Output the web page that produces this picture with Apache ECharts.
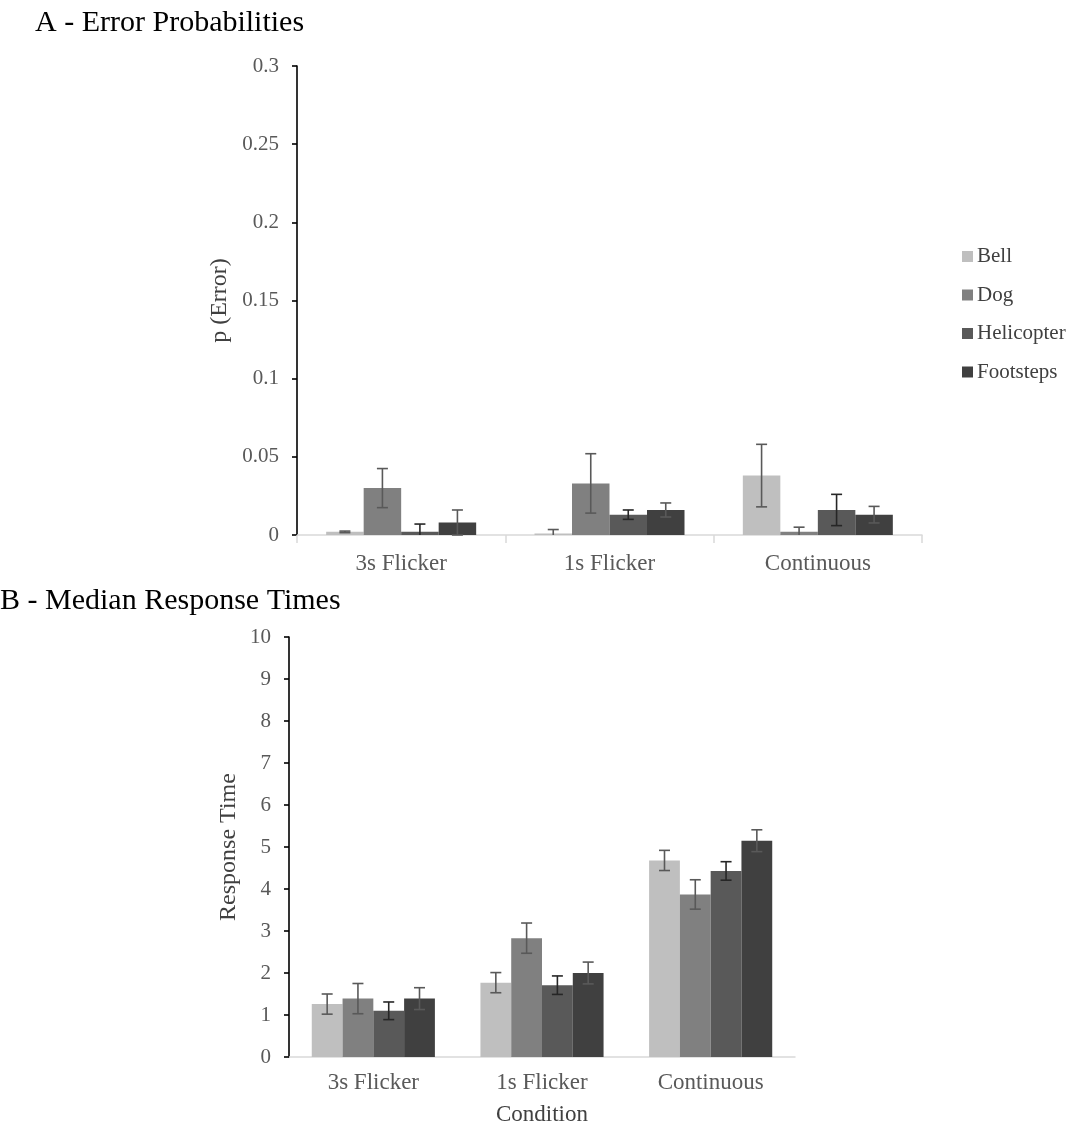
<!DOCTYPE html>
<html>
<head>
<meta charset="utf-8">
<script src="https://cdn.jsdelivr.net/npm/echarts@6/dist/echarts.min.js"></script>
<style>html,body{margin:0;padding:0;background:#fff;}#c{width:1072px;height:1132px;}</style>
</head>
<body>
<div id="c"></div>
<script>
const categories = ['3s Flicker', '1s Flicker', 'Continuous'];
const seriesNames = ['Bell', 'Dog', 'Helicopter', 'Footsteps'];
const barColors = ['#BFBFBF', '#808080', '#595959', '#404040'];
const errColors = ['#595959', '#595959', '#262626', '#595959'];

// A - Error probabilities (per series: values over categories)
const errBell = [0.002, 0.001, 0.038];
const errDog = [0.030, 0.033, 0.002];
const errHeli = [0.002, 0.013, 0.016];
const errFoot = [0.008, 0.016, 0.013];
// half-widths of the error bars
const errBellE = [0.0005, 0.0025, 0.020];
const errDogE = [0.0125, 0.019, 0.003];
const errHeliE = [0.005, 0.003, 0.010];
const errFootE = [0.008, 0.0045, 0.0053];

// B - Median response times
const rtBell = [1.26, 1.77, 4.68];
const rtDog = [1.39, 2.83, 3.87];
const rtHeli = [1.10, 1.71, 4.43];
const rtFoot = [1.39, 2.00, 5.15];
const rtBellE = [0.24, 0.24, 0.24];
const rtDogE = [0.36, 0.36, 0.35];
const rtHeliE = [0.21, 0.22, 0.22];
const rtFootE = [0.26, 0.26, 0.26];

const yTicksA = { min: 0, max: 0.3, interval: 0.05 };
const yTicksB = { min: 0, max: 10, interval: 1 };

const valsA = [errBell, errDog, errHeli, errFoot];
const esA = [errBellE, errDogE, errHeliE, errFootE];
const valsB = [rtBell, rtDog, rtHeli, rtFoot];
const esB = [rtBellE, rtDogE, rtHeliE, rtFootE];

const FONT = 'Liberation Serif';
const gapA = 0.28, gapB = 0.27;

function makeErr(idx, gap, axisIdx, vals, errs) {
  return {
    type: 'custom',
    name: seriesNames[idx] + ' error',
    xAxisIndex: axisIdx, yAxisIndex: axisIdx,
    z: 5,
    data: vals.map((v, i) => [i, v, errs[i]]),
    renderItem: function (params, api) {
      const cat = api.value(0), v = api.value(1), e = api.value(2);
      const catW = api.size([1, 0])[0];
      const barW = catW * (1 - gap) / 4;
      const c = api.coord([cat, v]);
      const x = c[0] + (idx - 1.5) * barW;
      const yHi = api.coord([cat, v + e])[1];
      const lowV = v - e;
      const yLo = api.coord([cat, Math.max(lowV, 0)])[1];
      const cap = 5.5;
      const st = { stroke: errColors[idx], lineWidth: 1.6 };
      const ch = [
        { type: 'line', shape: { x1: x, y1: yHi, x2: x, y2: yLo }, style: st },
        { type: 'line', shape: { x1: x - cap, y1: yHi, x2: x + cap, y2: yHi }, style: st }
      ];
      if (lowV >= 0) ch.push({ type: 'line', shape: { x1: x - cap, y1: yLo, x2: x + cap, y2: yLo }, style: st });
      return { type: 'group', children: ch };
    }
  };
}

const series = [];
seriesNames.forEach((n, i) => {
  series.push({ type: 'bar', name: n, xAxisIndex: 0, yAxisIndex: 0, data: valsA[i],
    barGap: '0%', barCategoryGap: (gapA * 100) + '%', itemStyle: { color: barColors[i] } });
});
seriesNames.forEach((n, i) => {
  series.push({ type: 'bar', name: n, xAxisIndex: 1, yAxisIndex: 1, data: valsB[i],
    barGap: '0%', barCategoryGap: (gapB * 100) + '%', itemStyle: { color: barColors[i] } });
});
seriesNames.forEach((n, i) => series.push(makeErr(i, gapA, 0, valsA[i], esA[i])));
seriesNames.forEach((n, i) => series.push(makeErr(i, gapB, 1, valsB[i], esB[i])));

const labelStyle = { fontFamily: FONT, fontSize: 21, color: '#595959' };

const chart = echarts.init(document.getElementById('c'), null, { renderer: 'canvas' });
chart.setOption({
  animation: false,
  backgroundColor: '#fff',
  title: [
    { text: 'A - Error Probabilities', left: 35, top: 8, padding: 0, textStyle: { fontFamily: FONT, fontSize: 30, fontWeight: 'normal', color: '#000' } },
    { text: 'B - Median Response Times', left: 0, top: 586, padding: 0, textStyle: { fontFamily: FONT, fontSize: 30, fontWeight: 'normal', color: '#000' } }
  ],
  legend: {
    orient: 'vertical', left: 962, top: 246, padding: 0, itemWidth: 11, itemHeight: 11, itemGap: 17.5,
    data: seriesNames, icon: 'rect',
    textStyle: { fontFamily: FONT, fontSize: 21, color: '#404040', lineHeight: 21, padding: [0, 0, 0, -1] }
  },
  grid: [
    { left: 297, top: 66, width: 625, height: 469 },
    { left: 289, top: 637, width: 506, height: 420 }
  ],
  xAxis: [
    { type: 'category', gridIndex: 0, data: categories,
      axisLine: { lineStyle: { color: '#d9d9d9', width: 1.5 } },
      axisTick: { show: true, length: 8, lineStyle: { color: '#d9d9d9', width: 1.5 } },
      axisLabel: Object.assign({ margin: 17 }, labelStyle, { fontSize: 23 }) },
    { type: 'category', gridIndex: 1, data: categories,
      name: 'Condition', nameLocation: 'middle', nameGap: 46,
      nameTextStyle: { fontFamily: FONT, fontSize: 23, color: '#404040' },
      axisLine: { lineStyle: { color: '#d9d9d9', width: 1.5 } },
      axisTick: { show: false },
      axisLabel: Object.assign({ margin: 14 }, labelStyle, { fontSize: 23 }) }
  ],
  yAxis: [
    Object.assign({ type: 'value', gridIndex: 0,
      name: 'p (Error)', nameLocation: 'middle', nameGap: 45,
      nameTextStyle: { fontFamily: FONT, fontSize: 24, color: '#404040' },
      axisLine: { show: true, lineStyle: { color: '#000', width: 1.6 } },
      axisTick: { show: true, length: 5, lineStyle: { color: '#000', width: 1.6 } },
      splitLine: { show: false },
      axisLabel: Object.assign({ margin: 18 }, labelStyle) }, yTicksA),
    Object.assign({ type: 'value', gridIndex: 1,
      name: 'Response Time', nameLocation: 'middle', nameGap: 48,
      nameTextStyle: { fontFamily: FONT, fontSize: 24, color: '#404040' },
      axisLine: { show: true, lineStyle: { color: '#000', width: 1.6 } },
      axisTick: { show: true, length: 5, lineStyle: { color: '#000', width: 1.6 } },
      splitLine: { show: false },
      axisLabel: Object.assign({ margin: 18 }, labelStyle) }, yTicksB)
  ],
  series: series
});
</script>
</body>
</html>
